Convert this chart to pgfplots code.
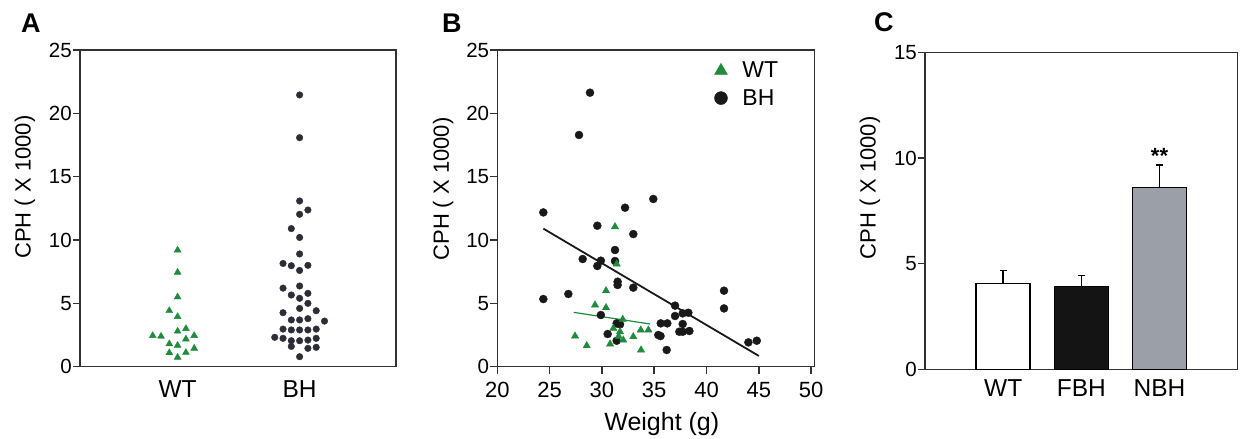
\documentclass[border=0pt]{standalone}
\usepackage{fontspec}
\setmainfont{Liberation Sans}
\usepackage{pgfplots}
\pgfplotsset{compat=1.18}

\definecolor{wtgreen}{RGB}{30,140,60}
\definecolor{bhgrayA}{RGB}{45,45,55}
\definecolor{bhdark}{RGB}{25,25,25}
\definecolor{axisgray}{RGB}{50,50,50}
\definecolor{nbhgray}{RGB}{155,160,168}

\pgfplotsset{
  panel/.style={
    scale only axis,
    clip=false,
    axis line style={draw=axisgray, line width=1.5pt},
    tick style={draw=axisgray, line width=1.5pt},
    tick align=outside,
    major tick length=7pt,
    tick pos=left,
    /pgf/number format/assume math mode=true,
    yticklabel style={font=\fontsize{20.5}{23}\selectfont, inner sep=1pt},
    xticklabel style={font=\fontsize{24.5}{28}\selectfont, anchor=base},
    ylabel style={font=\fontsize{22}{26}\selectfont, anchor=center},
    ylabel={CPH ( X 1000)},
  }
}

\begin{document}
\begin{tikzpicture}[x=1pt,y=1pt]
\path[use as bounding box] (0,0) rectangle (1243,439);

% ---- A ----
\begin{axis}[panel,
  at={(80pt,72.3pt)}, anchor=south west,
  width=316pt, height=316.7pt,
  xmin=-0.8, xmax=1.79, ymin=0, ymax=25,
  ytick={0,5,10,15,20,25},
  xtick={0,1}, xticklabels={WT,BH},
  xtick style={draw=none},
  xticklabel style={yshift=-24pt},
  ylabel style={at={(axis description cs:-0.174,0.567)}},
]
\addplot[only marks, mark=triangle*, mark size=4pt, color=wtgreen] coordinates {
(0,9.2)(0,7.45)(0,5.5)(-0.068,4.42)(0,3.95)(0,2.8)(0.068,3.0)
(-0.204,2.45)(-0.136,2.4)(0.136,2.45)(0.068,2.18)(-0.068,1.8)(0,1.68)
(0.136,1.45)(-0.068,1.1)(0.068,1.12)(0,0.74)};
\addplot[only marks, mark=*, mark size=3.3pt, color=bhgrayA] coordinates {
(1,21.45)(1,18.08)(1,13.08)(1,12.03)(1,10.2)(1,8.9)(1,7.6)(1,6.37)(1,5.4)
(1,4.6)(1,3.69)(1,2.9)(1,2.05)(1,0.79)
(1.068,12.37)(1.068,8.0)(1.068,5.79)(1.068,5.0)(1.068,3.79)(1.068,2.9)(1.068,2.1)(1.068,1.45)
(0.932,10.9)(0.932,7.97)(0.932,5.66)(0.932,3.69)(0.932,2.9)(0.932,2.05)(0.932,1.6)
(0.864,8.15)(0.864,6.2)(0.864,4.26)(0.864,2.97)(0.864,2.24)
(1.136,4.42)(1.136,2.97)(1.136,2.24)(1.136,1.53)
(1.204,3.6)(0.796,2.32)};
\end{axis}

% ---- B ----
\begin{axis}[panel,
  at={(497.3pt,72.3pt)}, anchor=south west,
  width=317pt, height=316.7pt,
  xmin=20, xmax=50.3, ymin=0, ymax=25,
  xtick={20,25,30,35,40,45,50},
  ytick={0,5,10,15,20,25},
  xticklabel style={font=\fontsize{22}{25}\selectfont, yshift=-24pt},
  xlabel={Weight (g)},
  xlabel style={font=\fontsize{25}{29}\selectfont, at={(axis description cs:0.519,-0.2)}, anchor=base},
  ylabel style={at={(axis description cs:-0.171,0.561)}},
  legend style={at={(0.675,0.975)}, anchor=north west, draw=none, fill=none,
    font=\fontsize{23}{26}\selectfont, row sep=6pt, column sep=13pt},
  legend cell align=left,
]
\addlegendimage{only marks, mark=triangle*, mark size=7.5pt, color=wtgreen}
\addlegendentry{WT}
\addlegendimage{only marks, mark=*, mark size=6.5pt, color=bhdark}
\addlegendentry{BH}
\addplot[only marks, mark=*, mark size=4pt, color=bhdark, forget plot] coordinates {
(28.86,21.63)(27.81,18.29)(24.40,12.18)(34.91,13.24)(32.21,12.55)(29.56,11.13)
(33.0,10.47)(31.25,9.21)(28.16,8.5)(29.9,8.37)(29.56,7.95)(31.25,8.34)
(31.5,6.71)(31.5,6.45)(33.0,6.24)(24.4,5.34)(26.79,5.74)(29.9,4.08)
(30.55,2.58)(31.41,2.05)(31.41,3.42)(31.73,3.34)(36.99,4.82)(36.99,4.0)
(37.72,4.21)(38.26,4.26)(37.72,3.37)(35.62,3.42)(36.25,3.42)(35.39,2.5)
(35.6,2.42)(37.4,2.76)(37.72,2.76)(38.36,2.82)(36.19,1.32)(41.67,6.0)
(41.67,4.6)(44.0,1.92)(44.8,2.05)};
\addplot[only marks, mark=triangle*, mark size=4.2pt, color=wtgreen, forget plot] coordinates {
(31.25,11.05)(31.41,8.1)(30.39,6.0)(29.34,4.87)(30.39,4.66)(31.99,3.74)
(31.09,3.03)(31.73,2.76)(32.04,2.1)(30.78,1.79)(33.0,2.37)(33.71,2.9)
(34.44,2.9)(33.74,1.32)(27.43,2.42)(28.55,1.66)(31.6,2.4)};
\addplot[color=bhdark, line width=1.8pt, forget plot] coordinates {(24.4,10.9)(45,0.85)};
\addplot[color=wtgreen, line width=1.2pt, forget plot] coordinates {(27.3,4.29)(34.6,3.37)};
\end{axis}

% ---- C ----
\begin{axis}[panel,
  at={(925pt,69.7pt)}, anchor=south west,
  width=312.7pt, height=317pt,
  xmin=0, xmax=4, ymin=0, ymax=15,
  ytick={0,5,10,15},
  xtick={1,2,3}, xticklabels={WT,FBH,NBH},
  xtick style={draw=none},
  xticklabel style={yshift=-20pt},
  ylabel style={at={(axis description cs:-0.176,0.572)}},
  ybar, bar width=54pt, bar shift=0pt,
  error bars/y dir=plus, error bars/y explicit,
  error bars/error mark=|,
  error bars/error bar style={black, line width=1.5pt},
  error bars/error mark options={black, mark size=3.5pt, line width=1.5pt},
]
\addplot[draw=black, line width=1.5pt, fill=white] coordinates {(1,4.07) +- (0,0.6)};
\addplot[draw=black, line width=1.5pt, fill=black!92] coordinates {(2,3.91) +- (0,0.52)};
\addplot[draw=black, line width=1.5pt, fill=nbhgray] coordinates {(3,8.61) +- (0,1.06)};
\node[font=\bfseries\fontsize{22}{26}\selectfont, anchor=center] at (axis cs:3,10.1) {**};
\end{axis}

% panel letters
\node[anchor=base west, inner sep=0pt, font=\bfseries\fontsize{27}{30}\selectfont] at (21,406) {A};
\node[anchor=base west, inner sep=0pt, font=\bfseries\fontsize{27}{30}\selectfont] at (442,406) {B};
\node[anchor=base west, inner sep=0pt, font=\bfseries\fontsize{27}{30}\selectfont] at (874,407) {C};
\end{tikzpicture}
\end{document}
